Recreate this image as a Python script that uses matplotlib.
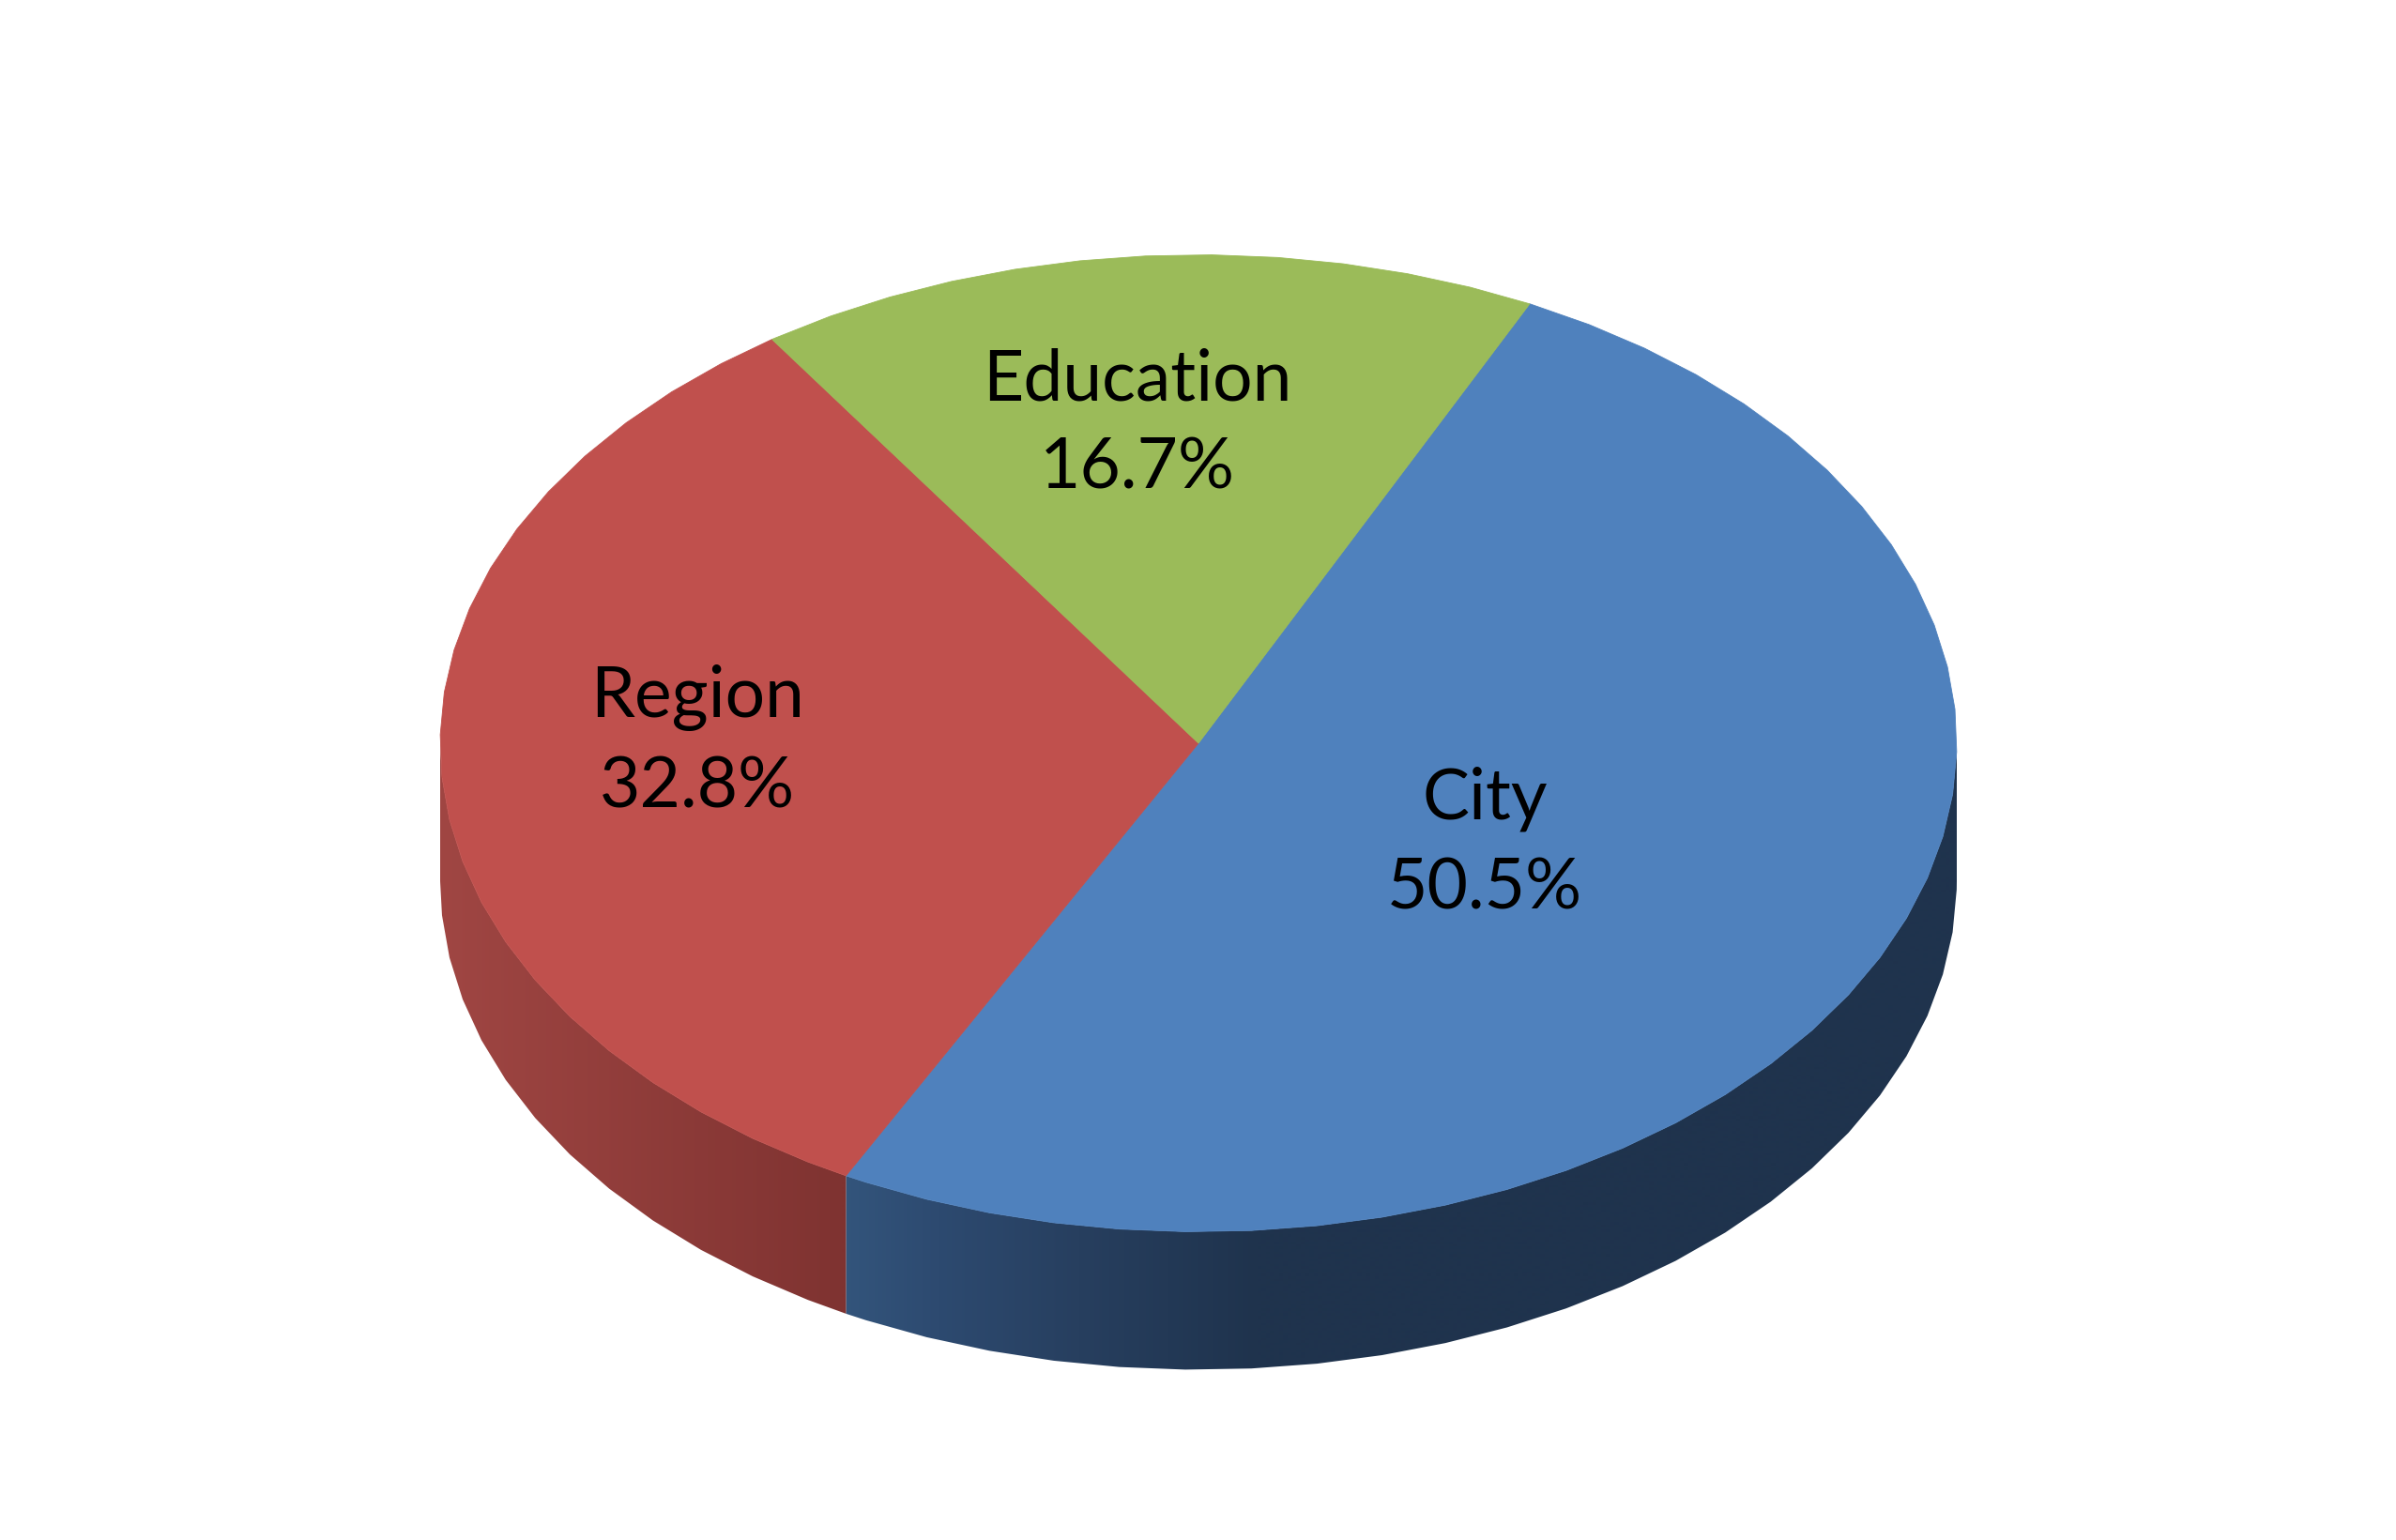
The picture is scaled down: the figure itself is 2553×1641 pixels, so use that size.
import matplotlib
matplotlib.use("Agg")
import matplotlib.pyplot as plt
import numpy as np
from matplotlib.path import Path
from matplotlib.patches import PathPatch

labels = ["City", "Region", "Education"]
values = [50.5, 32.8, 16.7]
colors = ["#4F81BD", "#C0504D", "#9BBB59"]

# label centres in image pixels
label_x = [1582, 743, 1212]
label_y = [899, 791, 452]

# side wall shading, left to right
side_dark = {
    "City": ([897, 1000, 1150, 1340, 2100], ["#33557C", "#2D4A70", "#273F5F", "#1F334D", "#1F334D"]),
    "Region": ([469, 897], ["#A04643", "#7F3331"]),
}

start_angle = 25.9
cx, cy = 1277, 792
rx, ry = 808, 520.5
depth = 147
facet = 5.0
facet_offset = 1.0


def rim(a0, a1):
    # polygon rim, the reference pie is faceted
    inner = np.arange(np.ceil((a0 - facet_offset) / facet), np.floor((a1 - facet_offset) / facet) + 1) * facet + facet_offset
    ang = np.radians(np.unique(np.concatenate([[a0], inner, [a1]])))
    return cx + rx * np.sin(ang), cy - ry * np.cos(ang)


def hex2rgb(c):
    return np.array(matplotlib.colors.to_rgb(c))


fig = plt.figure(figsize=(25.53, 16.41), dpi=100)
ax = fig.add_axes([0, 0, 1, 1])

angle = start_angle
tops = []
for name, val, col in zip(labels, values, colors):
    a0, a1 = angle, angle + val * 3.6
    angle = a1
    tops.append((a0, a1, col))

    # only the front half of the rim shows a wall
    s0, s1 = max(a0, 90), min(a1, 270)
    if s0 < s1 and name in side_dark:
        x, y = rim(s0, s1)
        px = np.concatenate([x, x[::-1]])
        py = np.concatenate([y, y[::-1] + depth])
        stops, shades = side_dark[name]
        xs = np.arange(int(x.min()) - 2, int(x.max()) + 3)
        rgb = np.array([np.interp(xs, stops, [hex2rgb(c)[i] for c in shades]) for i in range(3)]).T
        im = ax.imshow(rgb[np.newaxis, :, :], extent=[xs[0], xs[-1], py.max() + 2, py.min() - 2],
                       aspect="auto", interpolation="bilinear", zorder=1)
        clip = PathPatch(Path(np.column_stack([px, py])), transform=ax.transData, fc="none", ec="none")
        ax.add_patch(clip)
        im.set_clip_path(clip)

for a0, a1, col in tops:
    x, y = rim(a0, a1)
    ax.fill(np.r_[cx, x], np.r_[cy, y], color=col, lw=0.6, zorder=2)

for name, val, tx, ty in zip(labels, values, label_x, label_y):
    ax.text(tx, ty, f"{name}\n{val:.1f}%", ha="center", va="center", family="Lato",
            fontsize=54, color="black", linespacing=1.46, zorder=3)

ax.set_xlim(0, 2553)
ax.set_ylim(1641, 0)
ax.axis("off")
fig.savefig("out.png", dpi=100, facecolor="white")
